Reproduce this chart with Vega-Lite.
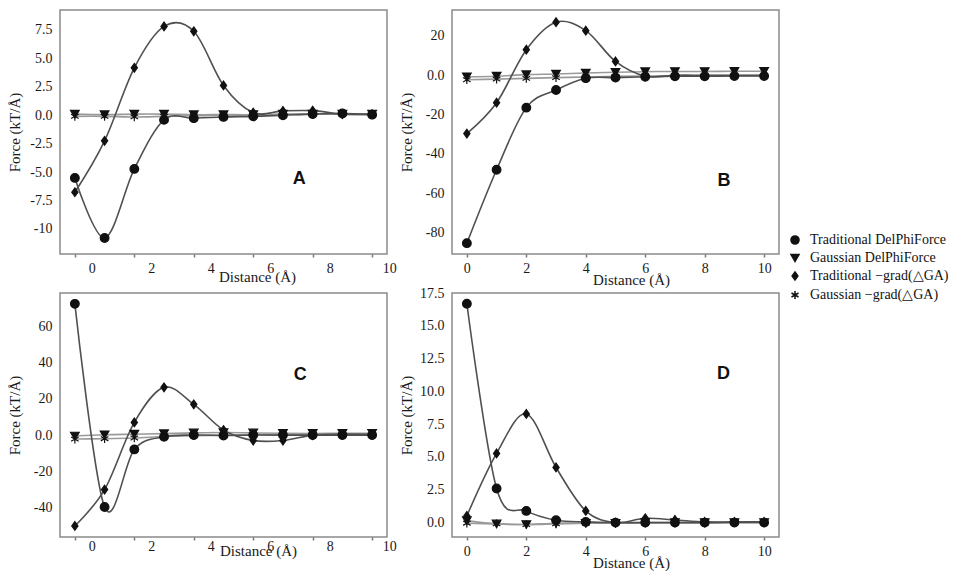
{
  "$schema": "https://vega.github.io/schema/vega-lite/v6.json",
  "autosize": {"type": "none"},
  "padding": {"left": 60, "top": 10, "right": 897, "bottom": 563},
  "background": "white",
  "datasets": {
    "forces": [
      {"p": "A", "s": "TD", "x": 0, "y": -5.51}, {"p": "A", "s": "TD", "x": 1, "y": -10.79}, {"p": "A", "s": "TD", "x": 2, "y": -4.72},
      {"p": "A", "s": "TD", "x": 3, "y": -0.41}, {"p": "A", "s": "TD", "x": 4, "y": -0.26}, {"p": "A", "s": "TD", "x": 5, "y": -0.15},
      {"p": "A", "s": "TD", "x": 6, "y": -0.1}, {"p": "A", "s": "TD", "x": 7, "y": 0.0}, {"p": "A", "s": "TD", "x": 8, "y": 0.1},
      {"p": "A", "s": "TD", "x": 9, "y": 0.15}, {"p": "A", "s": "TD", "x": 10, "y": 0.05},
      {"p": "A", "s": "GD", "x": 0, "y": 0.1}, {"p": "A", "s": "GD", "x": 1, "y": 0.05}, {"p": "A", "s": "GD", "x": 2, "y": 0.1},
      {"p": "A", "s": "GD", "x": 3, "y": 0.1}, {"p": "A", "s": "GD", "x": 4, "y": 0.05}, {"p": "A", "s": "GD", "x": 5, "y": 0.05},
      {"p": "A", "s": "GD", "x": 6, "y": 0.05}, {"p": "A", "s": "GD", "x": 7, "y": 0.1}, {"p": "A", "s": "GD", "x": 8, "y": 0.1},
      {"p": "A", "s": "GD", "x": 9, "y": 0.1}, {"p": "A", "s": "GD", "x": 10, "y": 0.1},
      {"p": "A", "s": "TG", "x": 0, "y": -6.77}, {"p": "A", "s": "TG", "x": 1, "y": -2.25}, {"p": "A", "s": "TG", "x": 2, "y": 4.17},
      {"p": "A", "s": "TG", "x": 3, "y": 7.81}, {"p": "A", "s": "TG", "x": 4, "y": 7.38}, {"p": "A", "s": "TG", "x": 5, "y": 2.62},
      {"p": "A", "s": "TG", "x": 6, "y": 0.23}, {"p": "A", "s": "TG", "x": 7, "y": 0.38}, {"p": "A", "s": "TG", "x": 8, "y": 0.4},
      {"p": "A", "s": "TG", "x": 9, "y": 0.1}, {"p": "A", "s": "TG", "x": 10, "y": 0.1},
      {"p": "A", "s": "GG", "x": 0, "y": -0.1}, {"p": "A", "s": "GG", "x": 1, "y": -0.1}, {"p": "A", "s": "GG", "x": 2, "y": -0.15},
      {"p": "A", "s": "GG", "x": 3, "y": -0.1}, {"p": "A", "s": "GG", "x": 4, "y": -0.05}, {"p": "A", "s": "GG", "x": 5, "y": 0.0},
      {"p": "A", "s": "GG", "x": 6, "y": 0.0}, {"p": "A", "s": "GG", "x": 7, "y": 0.05}, {"p": "A", "s": "GG", "x": 8, "y": 0.1},
      {"p": "A", "s": "GG", "x": 9, "y": 0.1}, {"p": "A", "s": "GG", "x": 10, "y": 0.05},

      {"p": "B", "s": "TD", "x": 0, "y": -85.5}, {"p": "B", "s": "TD", "x": 1, "y": -48.1}, {"p": "B", "s": "TD", "x": 2, "y": -16.5},
      {"p": "B", "s": "TD", "x": 3, "y": -7.5}, {"p": "B", "s": "TD", "x": 4, "y": -1.5}, {"p": "B", "s": "TD", "x": 5, "y": -1.2},
      {"p": "B", "s": "TD", "x": 6, "y": -0.8}, {"p": "B", "s": "TD", "x": 7, "y": -0.5}, {"p": "B", "s": "TD", "x": 8, "y": -0.5},
      {"p": "B", "s": "TD", "x": 9, "y": -0.4}, {"p": "B", "s": "TD", "x": 10, "y": -0.4},
      {"p": "B", "s": "GD", "x": 0, "y": -0.8}, {"p": "B", "s": "GD", "x": 1, "y": -0.5}, {"p": "B", "s": "GD", "x": 2, "y": 0.3},
      {"p": "B", "s": "GD", "x": 3, "y": 0.6}, {"p": "B", "s": "GD", "x": 4, "y": 1.1}, {"p": "B", "s": "GD", "x": 5, "y": 1.5},
      {"p": "B", "s": "GD", "x": 6, "y": 1.8}, {"p": "B", "s": "GD", "x": 7, "y": 1.9}, {"p": "B", "s": "GD", "x": 8, "y": 1.9},
      {"p": "B", "s": "GD", "x": 9, "y": 2.0}, {"p": "B", "s": "GD", "x": 10, "y": 2.0},
      {"p": "B", "s": "TG", "x": 0, "y": -29.7}, {"p": "B", "s": "TG", "x": 1, "y": -14.0}, {"p": "B", "s": "TG", "x": 2, "y": 13.0},
      {"p": "B", "s": "TG", "x": 3, "y": 27.0}, {"p": "B", "s": "TG", "x": 4, "y": 22.7}, {"p": "B", "s": "TG", "x": 5, "y": 7.0},
      {"p": "B", "s": "TG", "x": 6, "y": -0.5}, {"p": "B", "s": "TG", "x": 7, "y": 0.0}, {"p": "B", "s": "TG", "x": 8, "y": 0.0},
      {"p": "B", "s": "TG", "x": 9, "y": 0.0}, {"p": "B", "s": "TG", "x": 10, "y": 0.0},
      {"p": "B", "s": "GG", "x": 0, "y": -2.3}, {"p": "B", "s": "GG", "x": 1, "y": -2.0}, {"p": "B", "s": "GG", "x": 2, "y": -1.6},
      {"p": "B", "s": "GG", "x": 3, "y": -1.2}, {"p": "B", "s": "GG", "x": 4, "y": -0.9}, {"p": "B", "s": "GG", "x": 5, "y": -0.6},
      {"p": "B", "s": "GG", "x": 6, "y": -0.4}, {"p": "B", "s": "GG", "x": 7, "y": -0.3}, {"p": "B", "s": "GG", "x": 8, "y": -0.2},
      {"p": "B", "s": "GG", "x": 9, "y": -0.2}, {"p": "B", "s": "GG", "x": 10, "y": -0.2},

      {"p": "C", "s": "TD", "x": 0, "y": 72.5}, {"p": "C", "s": "TD", "x": 1, "y": -39.7}, {"p": "C", "s": "TD", "x": 2, "y": -7.9},
      {"p": "C", "s": "TD", "x": 3, "y": -0.9}, {"p": "C", "s": "TD", "x": 4, "y": 0.0}, {"p": "C", "s": "TD", "x": 5, "y": -0.2},
      {"p": "C", "s": "TD", "x": 6, "y": 0.0}, {"p": "C", "s": "TD", "x": 7, "y": 0.0}, {"p": "C", "s": "TD", "x": 8, "y": 0.0},
      {"p": "C", "s": "TD", "x": 9, "y": 0.0}, {"p": "C", "s": "TD", "x": 10, "y": 0.0},
      {"p": "C", "s": "GD", "x": 0, "y": -0.5}, {"p": "C", "s": "GD", "x": 1, "y": 0.2}, {"p": "C", "s": "GD", "x": 2, "y": 0.5},
      {"p": "C", "s": "GD", "x": 3, "y": 0.8}, {"p": "C", "s": "GD", "x": 4, "y": 1.2}, {"p": "C", "s": "GD", "x": 5, "y": 1.4},
      {"p": "C", "s": "GD", "x": 6, "y": 1.2}, {"p": "C", "s": "GD", "x": 7, "y": 1.0}, {"p": "C", "s": "GD", "x": 8, "y": 0.9},
      {"p": "C", "s": "GD", "x": 9, "y": 1.0}, {"p": "C", "s": "GD", "x": 10, "y": 1.0},
      {"p": "C", "s": "TG", "x": 0, "y": -50.2}, {"p": "C", "s": "TG", "x": 1, "y": -30.1}, {"p": "C", "s": "TG", "x": 2, "y": 7.0},
      {"p": "C", "s": "TG", "x": 3, "y": 26.4}, {"p": "C", "s": "TG", "x": 4, "y": 17.0}, {"p": "C", "s": "TG", "x": 5, "y": 2.8},
      {"p": "C", "s": "TG", "x": 6, "y": -3.0}, {"p": "C", "s": "TG", "x": 7, "y": -3.0}, {"p": "C", "s": "TG", "x": 8, "y": 0.0},
      {"p": "C", "s": "TG", "x": 9, "y": 0.5}, {"p": "C", "s": "TG", "x": 10, "y": 0.3},
      {"p": "C", "s": "GG", "x": 0, "y": -2.2}, {"p": "C", "s": "GG", "x": 1, "y": -2.0}, {"p": "C", "s": "GG", "x": 2, "y": -1.6},
      {"p": "C", "s": "GG", "x": 3, "y": -0.8}, {"p": "C", "s": "GG", "x": 4, "y": -0.3}, {"p": "C", "s": "GG", "x": 5, "y": 0.0},
      {"p": "C", "s": "GG", "x": 6, "y": 0.2}, {"p": "C", "s": "GG", "x": 7, "y": 0.3}, {"p": "C", "s": "GG", "x": 8, "y": 0.3},
      {"p": "C", "s": "GG", "x": 9, "y": 0.3}, {"p": "C", "s": "GG", "x": 10, "y": 0.2},

      {"p": "D", "s": "TD", "x": 0, "y": 16.68}, {"p": "D", "s": "TD", "x": 1, "y": 2.6}, {"p": "D", "s": "TD", "x": 2, "y": 0.89},
      {"p": "D", "s": "TD", "x": 3, "y": 0.18}, {"p": "D", "s": "TD", "x": 4, "y": 0.05}, {"p": "D", "s": "TD", "x": 5, "y": 0.0},
      {"p": "D", "s": "TD", "x": 6, "y": 0.0}, {"p": "D", "s": "TD", "x": 7, "y": 0.0}, {"p": "D", "s": "TD", "x": 8, "y": 0.0},
      {"p": "D", "s": "TD", "x": 9, "y": 0.0}, {"p": "D", "s": "TD", "x": 10, "y": 0.0},
      {"p": "D", "s": "GD", "x": 0, "y": 0.15}, {"p": "D", "s": "GD", "x": 1, "y": -0.1}, {"p": "D", "s": "GD", "x": 2, "y": -0.15},
      {"p": "D", "s": "GD", "x": 3, "y": -0.05}, {"p": "D", "s": "GD", "x": 4, "y": -0.05}, {"p": "D", "s": "GD", "x": 5, "y": -0.05},
      {"p": "D", "s": "GD", "x": 6, "y": 0.0}, {"p": "D", "s": "GD", "x": 7, "y": 0.0}, {"p": "D", "s": "GD", "x": 8, "y": 0.0},
      {"p": "D", "s": "GD", "x": 9, "y": 0.0}, {"p": "D", "s": "GD", "x": 10, "y": 0.0},
      {"p": "D", "s": "TG", "x": 0, "y": 0.51}, {"p": "D", "s": "TG", "x": 1, "y": 5.27}, {"p": "D", "s": "TG", "x": 2, "y": 8.28},
      {"p": "D", "s": "TG", "x": 3, "y": 4.2}, {"p": "D", "s": "TG", "x": 4, "y": 0.89}, {"p": "D", "s": "TG", "x": 5, "y": 0.0},
      {"p": "D", "s": "TG", "x": 6, "y": 0.33}, {"p": "D", "s": "TG", "x": 7, "y": 0.2}, {"p": "D", "s": "TG", "x": 8, "y": 0.05},
      {"p": "D", "s": "TG", "x": 9, "y": 0.05}, {"p": "D", "s": "TG", "x": 10, "y": 0.05},
      {"p": "D", "s": "GG", "x": 0, "y": -0.05}, {"p": "D", "s": "GG", "x": 1, "y": -0.1}, {"p": "D", "s": "GG", "x": 2, "y": -0.15},
      {"p": "D", "s": "GG", "x": 3, "y": -0.1}, {"p": "D", "s": "GG", "x": 4, "y": -0.05}, {"p": "D", "s": "GG", "x": 5, "y": -0.05},
      {"p": "D", "s": "GG", "x": 6, "y": -0.05}, {"p": "D", "s": "GG", "x": 7, "y": -0.05}, {"p": "D", "s": "GG", "x": 8, "y": -0.05},
      {"p": "D", "s": "GG", "x": 9, "y": 0.0}, {"p": "D", "s": "GG", "x": 10, "y": 0.0}
    ],
    "letters": [
      {"p": "A", "x": 7.55, "y": -5.6},
      {"p": "B", "x": 8.65, "y": -53.9},
      {"p": "C", "x": 7.58, "y": 33.2},
      {"p": "D", "x": 8.63, "y": 11.3}
    ]
  },
  "columns": 2,
  "bounds": "flush",
  "spacing": {"column": 65, "row": 39},
  "resolve": {
    "scale": {"x": "independent", "y": "independent", "shape": "shared"},
    "legend": {"shape": "shared"}
  },
  "concat": [
    {
      "width": 327,
      "height": 244,
      "encoding": {
        "x": {
          "field": "x", "type": "quantitative",
          "scale": {"domain": [-0.5, 10.5], "nice": false, "zero": false},
          "axis": {"values": [0, 2, 4, 6, 8, 10], "labelOffset": 17, "labelPadding": 4, "titleX": 197, "titleY": 15, "title": "Distance (Å)"}
        },
        "y": {
          "field": "y", "type": "quantitative",
          "scale": {"domain": [-12.2, 9.25], "nice": false, "zero": false},
          "axis": {"values": [-10, -7.5, -5, -2.5, 0, 2.5, 5, 7.5], "labelExpr": "datum.value == -10 ? '-10' : replace(format(datum.value, '.1f'), '−', '-')", "title": "Force (kT/Å)"}
        }
      },
      "layer": [
        {
          "data": {"name": "forces"},
          "transform": [{"filter": "datum.p == 'A' && (datum.s == 'GD' || datum.s == 'GG')"}],
          "mark": {"type": "line", "interpolate": "cardinal", "strokeWidth": 1.6, "color": "#9a9a9a"},
          "encoding": {"detail": {"field": "s"}}
        },
        {
          "data": {"name": "forces"},
          "transform": [{"filter": "datum.p == 'A' && (datum.s == 'TD' || datum.s == 'TG')"}],
          "mark": {"type": "line", "interpolate": "cardinal", "strokeWidth": 1.6, "color": "#505050"},
          "encoding": {"detail": {"field": "s"}}
        },
        {
          "data": {"name": "forces"},
          "transform": [{"filter": "datum.p == 'A'"}],
          "mark": {"type": "point", "filled": true, "fill": "#111", "stroke": "#111", "strokeWidth": 1.2, "opacity": 1, "size": 75},
          "encoding": {"shape": {"field": "s", "type": "nominal"}}
        },
        {
          "data": {"name": "letters"},
          "transform": [{"filter": "datum.p == 'A'"}],
          "mark": {"type": "text", "font": "Liberation Sans", "fontWeight": "bold", "fontSize": 18, "color": "#111"},
          "encoding": {"text": {"field": "p"}}
        }
      ]
    },
    {
      "width": 327,
      "height": 244,
      "encoding": {
        "x": {
          "field": "x", "type": "quantitative",
          "scale": {"domain": [-0.5, 10.5], "nice": false, "zero": false},
          "axis": {"values": [0, 2, 4, 6, 8, 10], "labelPadding": 4, "titleX": 179, "titleY": 18, "title": "Distance (Å)"}
        },
        "y": {
          "field": "y", "type": "quantitative",
          "scale": {"domain": [-91, 33.2], "nice": false, "zero": false},
          "axis": {"values": [-80, -60, -40, -20, 0, 20], "labelExpr": "datum.value == 0 ? '0.0' : replace(format(datum.value, 'd'), '−', '-')", "title": "Force (kT/Å)"}
        }
      },
      "layer": [
        {
          "data": {"name": "forces"},
          "transform": [{"filter": "datum.p == 'B' && (datum.s == 'GD' || datum.s == 'GG')"}],
          "mark": {"type": "line", "interpolate": "cardinal", "strokeWidth": 1.6, "color": "#9a9a9a"},
          "encoding": {"detail": {"field": "s"}}
        },
        {
          "data": {"name": "forces"},
          "transform": [{"filter": "datum.p == 'B' && (datum.s == 'TD' || datum.s == 'TG')"}],
          "mark": {"type": "line", "interpolate": "cardinal", "strokeWidth": 1.6, "color": "#505050"},
          "encoding": {"detail": {"field": "s"}}
        },
        {
          "data": {"name": "forces"},
          "transform": [{"filter": "datum.p == 'B'"}],
          "mark": {"type": "point", "filled": true, "fill": "#111", "stroke": "#111", "strokeWidth": 1.2, "opacity": 1, "size": 75},
          "encoding": {"shape": {"field": "s", "type": "nominal"}}
        },
        {
          "data": {"name": "letters"},
          "transform": [{"filter": "datum.p == 'B'"}],
          "mark": {"type": "text", "font": "Liberation Sans", "fontWeight": "bold", "fontSize": 18, "color": "#111"},
          "encoding": {"text": {"field": "p"}}
        }
      ]
    },
    {
      "width": 327,
      "height": 244,
      "encoding": {
        "x": {
          "field": "x", "type": "quantitative",
          "scale": {"domain": [-0.5, 10.5], "nice": false, "zero": false},
          "axis": {"values": [0, 2, 4, 6, 8, 10], "labelOffset": 17, "labelPadding": -1, "titleX": 198, "titleY": 6, "title": "Distance (Å)"}
        },
        "y": {
          "field": "y", "type": "quantitative",
          "scale": {"domain": [-56.3, 78.5], "nice": false, "zero": false},
          "axis": {"values": [-40, -20, 0, 20, 40, 60], "labelExpr": "datum.value == 0 ? '0.0' : replace(format(datum.value, 'd'), '−', '-')", "title": "Force (kT/Å)"}
        }
      },
      "layer": [
        {
          "data": {"name": "forces"},
          "transform": [{"filter": "datum.p == 'C' && (datum.s == 'GD' || datum.s == 'GG')"}],
          "mark": {"type": "line", "interpolate": "cardinal", "strokeWidth": 1.6, "color": "#9a9a9a"},
          "encoding": {"detail": {"field": "s"}}
        },
        {
          "data": {"name": "forces"},
          "transform": [{"filter": "datum.p == 'C' && (datum.s == 'TD' || datum.s == 'TG')"}],
          "mark": {"type": "line", "interpolate": "cardinal", "strokeWidth": 1.6, "color": "#505050"},
          "encoding": {"detail": {"field": "s"}}
        },
        {
          "data": {"name": "forces"},
          "transform": [{"filter": "datum.p == 'C'"}],
          "mark": {"type": "point", "filled": true, "fill": "#111", "stroke": "#111", "strokeWidth": 1.2, "opacity": 1, "size": 75},
          "encoding": {"shape": {"field": "s", "type": "nominal"}}
        },
        {
          "data": {"name": "letters"},
          "transform": [{"filter": "datum.p == 'C'"}],
          "mark": {"type": "text", "font": "Liberation Sans", "fontWeight": "bold", "fontSize": 18, "color": "#111"},
          "encoding": {"text": {"field": "p"}}
        }
      ]
    },
    {
      "width": 327,
      "height": 244,
      "encoding": {
        "x": {
          "field": "x", "type": "quantitative",
          "scale": {"domain": [-0.5, 10.5], "nice": false, "zero": false},
          "axis": {"values": [0, 2, 4, 6, 8, 10], "labelPadding": 4, "titleX": 179, "titleY": 18, "title": "Distance (Å)"}
        },
        "y": {
          "field": "y", "type": "quantitative",
          "scale": {"domain": [-1.1, 17.5], "nice": false, "zero": false},
          "axis": {"values": [0, 2.5, 5, 7.5, 10, 12.5, 15, 17.5], "format": ".1f", "title": "Force (kT/Å)"}
        }
      },
      "layer": [
        {
          "data": {"name": "forces"},
          "transform": [{"filter": "datum.p == 'D' && (datum.s == 'GD' || datum.s == 'GG')"}],
          "mark": {"type": "line", "interpolate": "cardinal", "strokeWidth": 1.6, "color": "#9a9a9a"},
          "encoding": {"detail": {"field": "s"}}
        },
        {
          "data": {"name": "forces"},
          "transform": [{"filter": "datum.p == 'D' && (datum.s == 'TD' || datum.s == 'TG')"}],
          "mark": {"type": "line", "interpolate": "cardinal", "strokeWidth": 1.6, "color": "#505050"},
          "encoding": {"detail": {"field": "s"}}
        },
        {
          "data": {"name": "forces"},
          "transform": [{"filter": "datum.p == 'D'"}],
          "mark": {"type": "point", "filled": true, "fill": "#111", "stroke": "#111", "strokeWidth": 1.2, "opacity": 1, "size": 75},
          "encoding": {
            "shape": {
              "field": "s", "type": "nominal",
              "scale": {
                "domain": ["TD", "GD", "TG", "GG"],
                "range": ["circle", "triangle-down", "M0,-1L0.72,0L0,1L-0.72,0Z", "M0,-1L0,1M-0.87,-0.5L0.87,0.5M-0.87,0.5L0.87,-0.5"]
              },
              "legend": {
                "orient": "none",
                "legendX": 728,
                "legendY": 223,
                "title": null,
                "padding": 0,
                "labelExpr": "datum.value == 'TD' ? 'Traditional  DelPhiForce' : datum.value == 'GD' ? 'Gaussian DelPhiForce' : datum.value == 'TG' ? 'Traditional −grad(△GA)' : 'Gaussian −grad(△GA)'",
                "symbolFillColor": "#111",
                "symbolStrokeColor": "#111",
                "symbolStrokeWidth": 1.5,
                "symbolSize": 65,
                "labelFont": "Liberation Serif",
                "labelFontSize": 14,
                "labelColor": "#111",
                "labelOffset": 8,
                "rowPadding": 3
              }
            }
          }
        },
        {
          "data": {"name": "letters"},
          "transform": [{"filter": "datum.p == 'D'"}],
          "mark": {"type": "text", "font": "Liberation Sans", "fontWeight": "bold", "fontSize": 18, "color": "#111"},
          "encoding": {"text": {"field": "p"}}
        }
      ]
    }
  ],
  "config": {
    "view": {"stroke": "#8a8a8a", "strokeWidth": 1.5},
    "axis": {
      "grid": false,
      "domain": false,
      "labelFont": "Liberation Serif",
      "labelFontSize": 14,
      "labelColor": "#1a1a1a",
      "titleFont": "Liberation Serif",
      "titleFontSize": 15,
      "titleFontWeight": "normal",
      "titleColor": "#1a1a1a",
      "tickColor": "#777777",
      "tickWidth": 1.5
    },
    "axisX": {"tickSize": 3, "labelFlush": false, "labelOverlap": false},
    "axisY": {"ticks": false, "labelPadding": 8, "titleX": -38, "labelOverlap": false}
  }
}
